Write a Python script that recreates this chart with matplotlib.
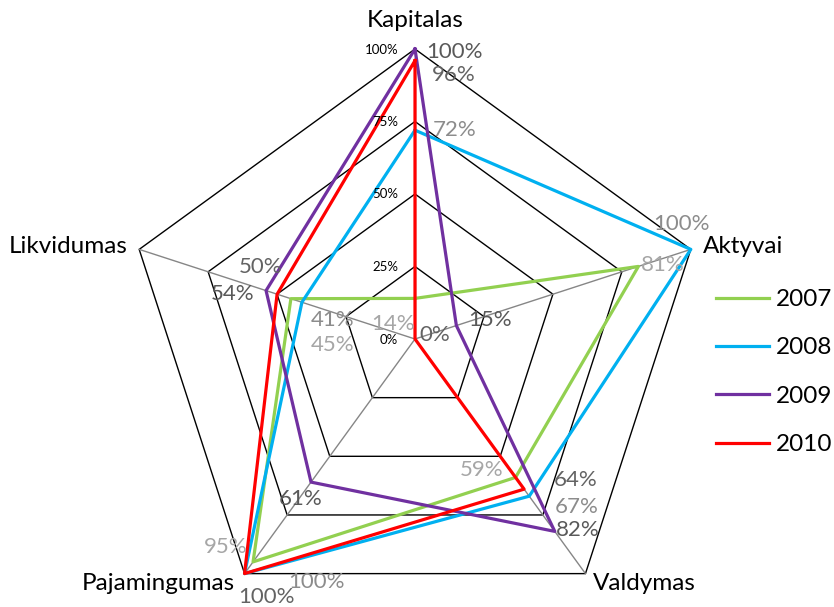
import numpy as np
import matplotlib
matplotlib.use("Agg")
import matplotlib.pyplot as plt

# ---- data -------------------------------------------------------------
categories = ["Kapitalas", "Aktyvai", "Valdymas", "Pajamingumas", "Likvidumas"]
years = ["2007", "2008", "2009", "2010"]
v2007 = [14, 81, 59, 95, 45]
v2008 = [72, 100, 67, 100, 41]
v2009 = [100, 15, 82, 61, 54]
v2010 = [96, 0, 64, 100, 50]
ticks = [0, 25, 50, 75, 100]

series = [v2007, v2008, v2009, v2010]

# ---- styling / layout ---------------------------------------------------
line_colors = ["#92d050", "#00b0f0", "#7030a0", "#ff0000"]
label_colors = ["#a6a6a6", "#8c8c8c", "#595959", "#636363"]
FONT = "Lato"

# data-label offsets (pixels) per series, per category
label_offsets = [
    [(-22, -31.6), (24, -4.6), (-34, 1.4), (-27, 8.9), (42, -52.3)],
    [(40, -5.8), (-9, 19.4), (47, -16.8), (72, -14.4), (31, -23.6)],
    [(39, -9), (34, -0.4), (23, -4.6), (-10, -22.9), (-33, -9.4)],
    [(39, -20.4), (20, -2), (52, 3.2), (22, -29.4), (-16, 21.2)],
]
# category-name offsets (pixels) from the outer vertex, with alignment
cat_layout = [
    ((0, 22), "center"),
    ((12, -3.6), "left"),
    ((7.5, -16.4), "left"),
    ((-9.5, -16.4), "right"),
    ((-12, -3.6), "right"),
]

W, H = 834, 607
fig = plt.figure(figsize=(W / 100, H / 100), dpi=100)
cx, cy, R = 415, H - 339, 290
ax = fig.add_axes([(cx - R) / W, (cy - R) / H, 2 * R / W, 2 * R / H],
                  projection="polar")
ax.set_theta_offset(np.pi / 2)
ax.set_theta_direction(-1)
ax.set_ylim(0, 100)
ax.axis("off")

n = len(categories)
theta = np.arange(n) * 2 * np.pi / n
theta_closed = np.append(theta, theta[0])

# pentagon grid
for t in ticks[1:]:
    ax.plot(theta_closed, [t] * (n + 1), color="black", lw=1.0,
            clip_on=False, zorder=1)
# spokes
for th in theta:
    ax.plot([th, th], [0, 100], color="#868686", lw=1.0, clip_on=False,
            zorder=1.5)

# tick labels along the first spoke
for t in ticks:
    ax.annotate(f"{t}%", xy=(0, t), xytext=(-17, -4.5),
                textcoords="offset pixels", ha="right", va="baseline",
                fontsize=9.5, family=FONT, color="black", zorder=5)

# series
for vals, year, col in zip(series, years, line_colors):
    ax.plot(theta_closed, vals + vals[:1], color=col, lw=2.3, label=year,
            solid_joinstyle="round", clip_on=False, zorder=3)

# data labels
for vals, offs, lcol in zip(series, label_offsets, label_colors):
    for th, v, off in zip(theta, vals, offs):
        ax.annotate(f"{v}%", xy=(th, v), xytext=off,
                    textcoords="offset pixels", ha="center", va="baseline",
                    fontsize=16, family=FONT, color=lcol, zorder=6)

# category names
for th, name, (off, ha) in zip(theta, categories, cat_layout):
    ax.annotate(name, xy=(th, 100), xytext=off, textcoords="offset pixels",
                ha=ha, va="baseline", fontsize=17.5, family=FONT,
                color="black", zorder=6)

leg = fig.legend(loc="upper left", bbox_to_anchor=(716 / W, 1 - 289 / H),
                 frameon=False, prop={"family": FONT, "size": 17.5},
                 handlelength=2.2, handletextpad=0.25, labelspacing=1.13,
                 borderpad=0, borderaxespad=0)

fig.savefig("out.png", dpi=100)
